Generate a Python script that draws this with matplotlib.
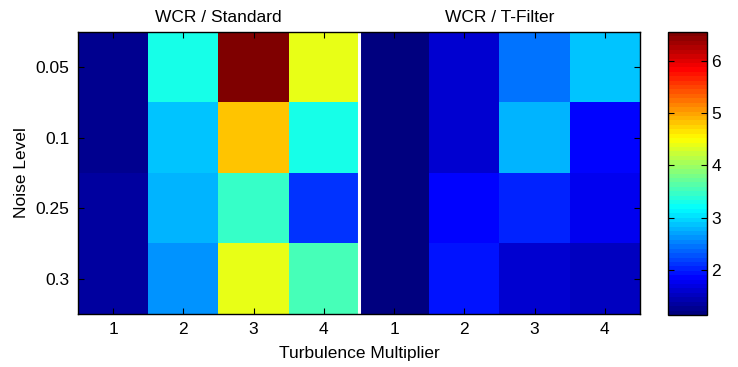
import numpy as np
import matplotlib
matplotlib.use("Agg")
import matplotlib.pyplot as plt
from matplotlib.colors import LinearSegmentedColormap

plt.rcParams['font.family'] = ['Liberation Sans', 'DejaVu Sans']

noise_levels = ["0.05", "0.1", "0.25", "0.3"]
turb_labels = ["1", "2", "3", "4"]
titles = ["WCR / Standard", "WCR / T-Filter"]

# rows: noise levels, cols: turbulence multiplier 1..4
standard = [
    [1.28, 3.32, 6.55, 4.38],
    [1.28, 2.90, 4.80, 3.26],
    [1.35, 2.83, 3.44, 2.15],
    [1.35, 2.66, 4.38, 3.52],
]
tfilter = [
    [1.14, 1.64, 2.49, 2.90],
    [1.14, 1.64, 2.75, 1.88],
    [1.14, 1.90, 2.06, 1.80],
    [1.14, 1.98, 1.64, 1.56],
]

data = np.hstack([np.array(standard), np.array(tfilter)])
vmin, vmax = 1.14, 6.55

# MATLAB-style jet colormap
matlab_jet = LinearSegmentedColormap('matlab_jet', {
    'red':   [(0, 0, 0), (3/8, 0, 0), (5/8, 1, 1), (7/8, 1, 1), (1, 0.5, 0.5)],
    'green': [(0, 0, 0), (1/8, 0, 0), (3/8, 1, 1), (5/8, 1, 1), (7/8, 0, 0), (1, 0, 0)],
    'blue':  [(0, 0.5, 0.5), (1/8, 1, 1), (3/8, 1, 1), (5/8, 0, 0), (1, 0, 0)],
}, N=64)

W, H = 738, 367
fig = plt.figure(figsize=(W / 100, H / 100), dpi=100)
ax = fig.add_axes([78 / W, 1 - 314 / H, (640 - 78) / W, (314 - 32) / H])
im = ax.imshow(data, cmap=matlab_jet, vmin=vmin, vmax=vmax, aspect='auto',
               interpolation='nearest', extent=(0.5, 8.5, 4.5, 0.5))
ax.axvline(4.5, color='white', lw=2.2)

fs = 12.5
ax.set_xticks(np.arange(1, 9))
ax.set_xticklabels(turb_labels + turb_labels, fontsize=fs)
ax.set_yticks(np.arange(1, 5))
ax.set_yticklabels(noise_levels, fontsize=fs)
ax.tick_params(direction='in', length=4, width=0.8, top=True, right=True,
               pad=6, colors='black')
ax.set_xlabel("Turbulence Multiplier", fontsize=fs, labelpad=6)
ax.set_ylabel("Noise Level", fontsize=fs, labelpad=5)
for s in ax.spines.values():
    s.set_linewidth(1.0)

ax.text(2.5, 0.36, titles[0], ha='center', va='baseline', fontsize=fs)
ax.text(6.5, 0.36, titles[1], ha='center', va='baseline', fontsize=fs)
ax.set_xlim(0.5, 8.5)
ax.set_ylim(4.5, 0.5)

cax = fig.add_axes([668 / W, 1 - 315 / H, (707 - 668) / W, (315 - 32) / H])
cb = fig.colorbar(im, cax=cax)
cb.set_ticks([2, 3, 4, 5, 6])
cb.ax.tick_params(direction='in', length=4, width=0.8, left=True, right=True,
                  labelsize=fs, pad=3)
cb.outline.set_linewidth(1.0)

fig.savefig("out.png", dpi=100)
